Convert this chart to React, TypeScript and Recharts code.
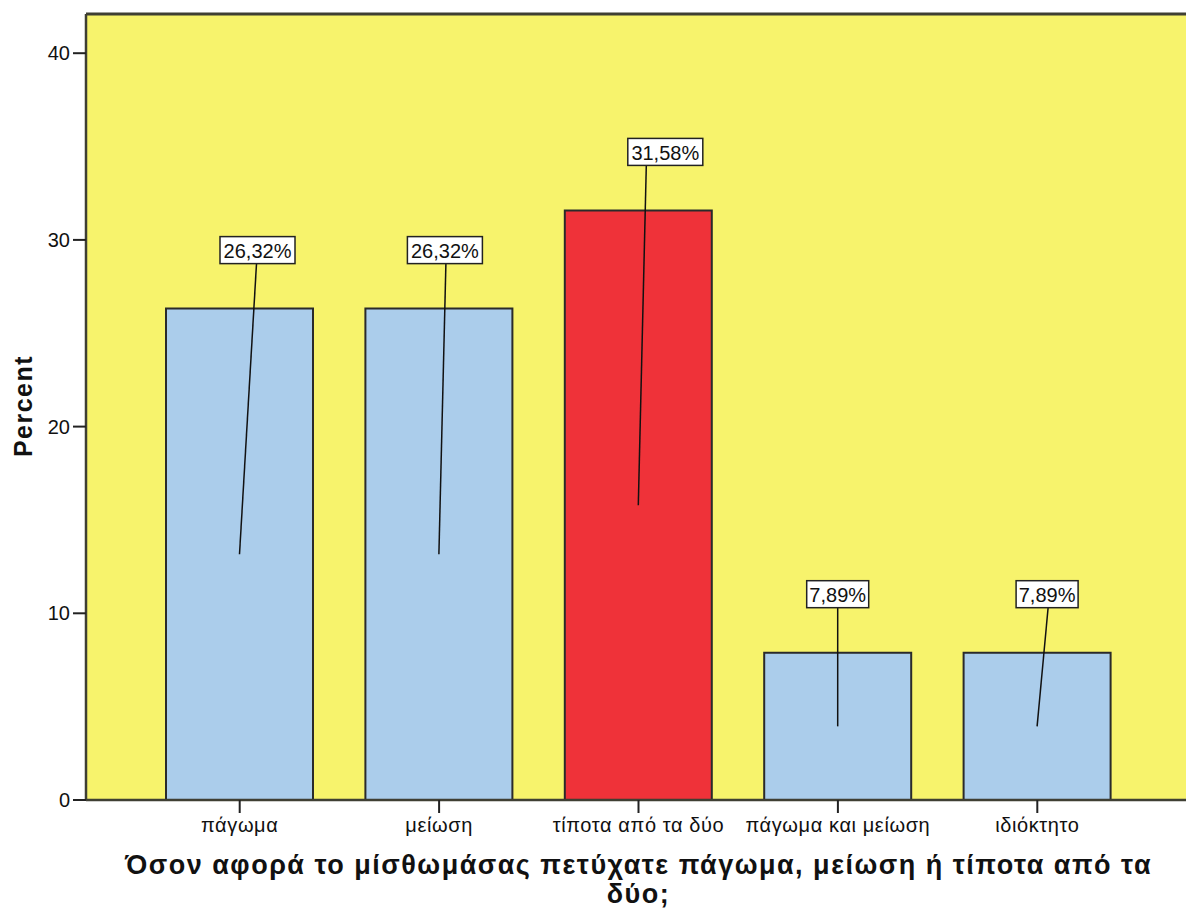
import React from 'react';
import { BarChart, Bar, XAxis, YAxis, CartesianGrid, Cell, LabelList, ReferenceLine } from 'recharts';

const categories = ['πάγωμα', 'μείωση', 'τίποτα από τα δύο', 'πάγωμα και μείωση', 'ιδιόκτητο'];
const percents = [26.32, 26.32, 31.58, 7.89, 7.89];
const barColors = ['#ABCDEB', '#ABCDEB', '#EF3239', '#ABCDEB', '#ABCDEB'];
const yTicks = [0, 10, 20, 30, 40];
const xTitle = ['Όσον αφορά το μίσθωμάσας πετύχατε πάγωμα, μείωση ή τίποτα από τα', 'δύο;'];

// label callout style offsets (px)
const lineShift = [17, 7, 8, 0, 11];
const boxShift = [18, 6, 27, 0, 10];

const data = categories.map((c, i) => ({ name: c, value: percents[i] }));

const FONT = "Arial, 'Liberation Sans', sans-serif";
const AXIS = '#3f3f33';

const CalloutLabel = (props: any) => {
  const { x, y, width, height, value, index } = props;
  const cx = x + width / 2;
  const midY = y + height / 2;
  const lx = cx + lineShift[index];
  const bx = cx + boxShift[index];
  const text = Number(value).toFixed(2).replace('.', ',') + '%';
  const bw = text.length === 6 ? 75 : 62;
  const bh = 27;
  const boxBottom = y - 45;
  return (
    <g>
      <line x1={lx} y1={boxBottom} x2={cx} y2={midY} stroke="#111" strokeWidth={1.5} />
      <rect x={bx - bw / 2} y={boxBottom - bh} width={bw} height={bh} fill="#fff" stroke="#222" strokeWidth={1.5} />
      <text x={bx} y={boxBottom - bh / 2 + 1} textAnchor="middle" dominantBaseline="central" fontFamily={FONT} fontSize={20} fill="#111">
        {text}
      </text>
    </g>
  );
};

const YLabel = () => (
  <text x={0} y={0} transform="translate(23,406) rotate(-90)" textAnchor="middle" dominantBaseline="central" fontFamily={FONT} fontSize={25} fontWeight="bold" letterSpacing={1.5} fill="#111">
    Percent
  </text>
);

export default function App() {
  return (
    <div style={{ position: 'absolute', left: 0, top: 0, width: 1186, height: 918, overflow: 'hidden', background: '#fff' }}>
      <BarChart
        width={1200}
        height={918}
        data={data}
        margin={{ top: 14, right: 9, left: 0, bottom: 88 }}
        barSize={147}
      >
        <CartesianGrid fill="#F7F36C" stroke="none" horizontal={false} vertical={false} />
        <XAxis
          dataKey="name"
          height={30}
          padding={{ left: 54, right: 54 }}
          axisLine={{ stroke: AXIS, strokeWidth: 2.5 }}
          tickLine={{ stroke: '#222', strokeWidth: 2 }}
          tickSize={13}
          tickMargin={5}
          interval={0}
          tick={{ fontFamily: FONT, fontSize: 20, letterSpacing: 0.6, fill: '#111' }}
        />
        <YAxis
          width={86}
          domain={[0, 42.1]}
          ticks={yTicks}
          allowDataOverflow
          axisLine={{ stroke: AXIS, strokeWidth: 2.5 }}
          tickLine={{ stroke: '#222', strokeWidth: 2 }}
          tickSize={13}
          tickMargin={3}
          tick={{ fontFamily: FONT, fontSize: 20, fill: '#111' }}
          label={<YLabel />}
        />
        <ReferenceLine y={42.1} stroke={AXIS} strokeWidth={3} />
        <Bar dataKey="value" stroke="#2a2a2a" strokeWidth={2} isAnimationActive={false}>
          {data.map((d, i) => (
            <Cell key={d.name} fill={barColors[i]} />
          ))}
          <LabelList dataKey="value" content={<CalloutLabel />} />
        </Bar>
      </BarChart>
      <div
        style={{
          position: 'absolute',
          left: 86,
          width: 1105,
          top: 851,
          textAlign: 'center',
          fontFamily: FONT,
          fontWeight: 'bold',
          fontSize: 27,
          lineHeight: '29px',
          letterSpacing: 1.5,
          color: '#111',
        }}
      >
        <div>{xTitle[0]}</div>
        <div>{xTitle[1]}</div>
      </div>
    </div>
  );
}
